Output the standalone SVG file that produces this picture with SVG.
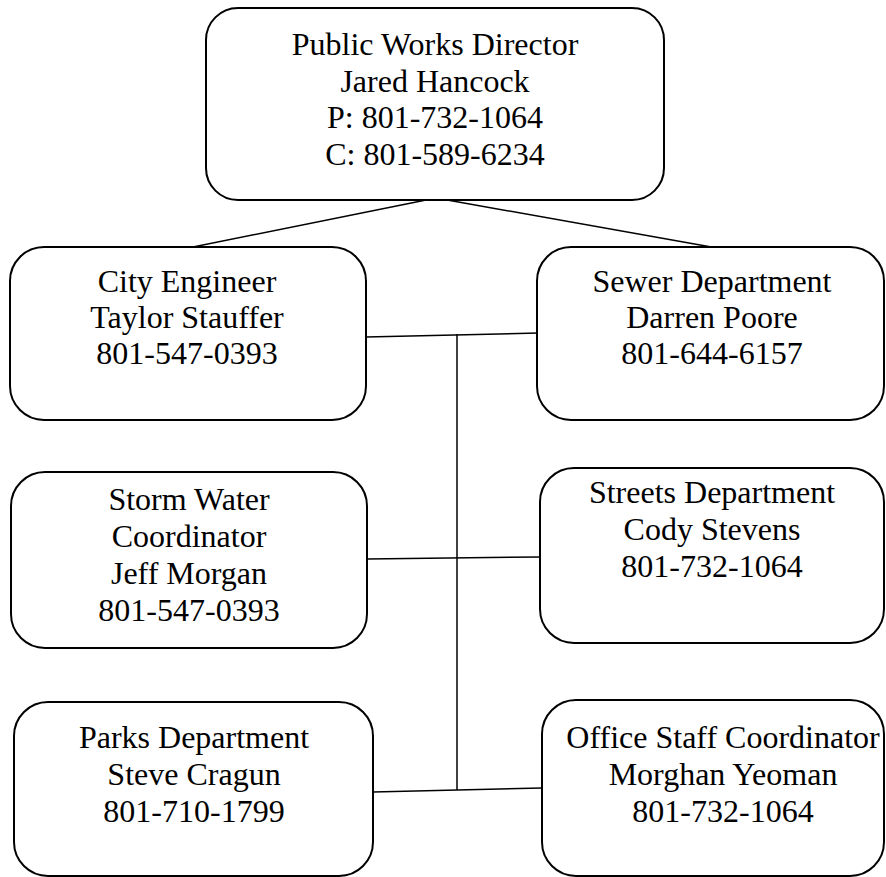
<svg xmlns="http://www.w3.org/2000/svg" width="886" height="877" viewBox="0 0 886 877">
<style>
.box{fill:#fff;stroke:#000;stroke-width:2}
.t{font-family:"Liberation Serif","Times New Roman",serif;font-size:32px;fill:#000;text-anchor:middle}
.c{stroke:#000;stroke-width:1.5;fill:none}
</style>
<rect width="886" height="877" fill="#fff"/>
<g id="connectors">
<line class="c" x1="436" y1="198" x2="188" y2="248"/>
<line class="c" x1="436" y1="198" x2="717" y2="248"/>
<line class="c" x1="366" y1="337" x2="538" y2="333"/>
<line class="c" x1="367" y1="559" x2="540" y2="557"/>
<line class="c" x1="373" y1="792" x2="542" y2="788"/>
<line class="c" x1="457" y1="334" x2="457" y2="790"/>
</g>
<g id="director">
<rect class="box" x="206" y="8" width="458" height="192" rx="32" ry="32"/>
<text class="t" x="435" y="55">Public Works Director</text>
<text class="t" x="435" y="92">Jared Hancock</text>
<text class="t" x="435" y="128">P: 801-732-1064</text>
<text class="t" x="435" y="165">C: 801-589-6234</text>
</g>
<g id="city-engineer">
<rect class="box" x="10" y="247" width="356" height="173" rx="34" ry="34"/>
<text class="t" x="187" y="292">City Engineer</text>
<text class="t" x="187" y="328">Taylor Stauffer</text>
<text class="t" x="187" y="364">801-547-0393</text>
</g>
<g id="sewer">
<rect class="box" x="537" y="247" width="347" height="173" rx="34" ry="34"/>
<text class="t" x="712" y="292">Sewer Department</text>
<text class="t" x="712" y="328">Darren Poore</text>
<text class="t" x="712" y="364">801-644-6157</text>
</g>
<g id="storm-water">
<rect class="box" x="11" y="472" width="356" height="176" rx="34" ry="34"/>
<text class="t" x="189" y="510">Storm Water</text>
<text class="t" x="189" y="547">Coordinator</text>
<text class="t" x="189" y="584">Jeff Morgan</text>
<text class="t" x="189" y="621">801-547-0393</text>
</g>
<g id="streets">
<rect class="box" x="540" y="468" width="344" height="175" rx="34" ry="34"/>
<text class="t" x="712" y="503">Streets Department</text>
<text class="t" x="712" y="540">Cody Stevens</text>
<text class="t" x="712" y="577">801-732-1064</text>
</g>
<g id="parks">
<rect class="box" x="14" y="702" width="359" height="174" rx="34" ry="34"/>
<text class="t" x="194" y="748">Parks Department</text>
<text class="t" x="194" y="785">Steve Cragun</text>
<text class="t" x="194" y="822">801-710-1799</text>
</g>
<g id="office-staff">
<rect class="box" x="542" y="700" width="342" height="176" rx="34" ry="34"/>
<text class="t" x="723" y="748">Office Staff Coordinator</text>
<text class="t" x="723" y="785">Morghan Yeoman</text>
<text class="t" x="723" y="822">801-732-1064</text>
</g>
</svg>
